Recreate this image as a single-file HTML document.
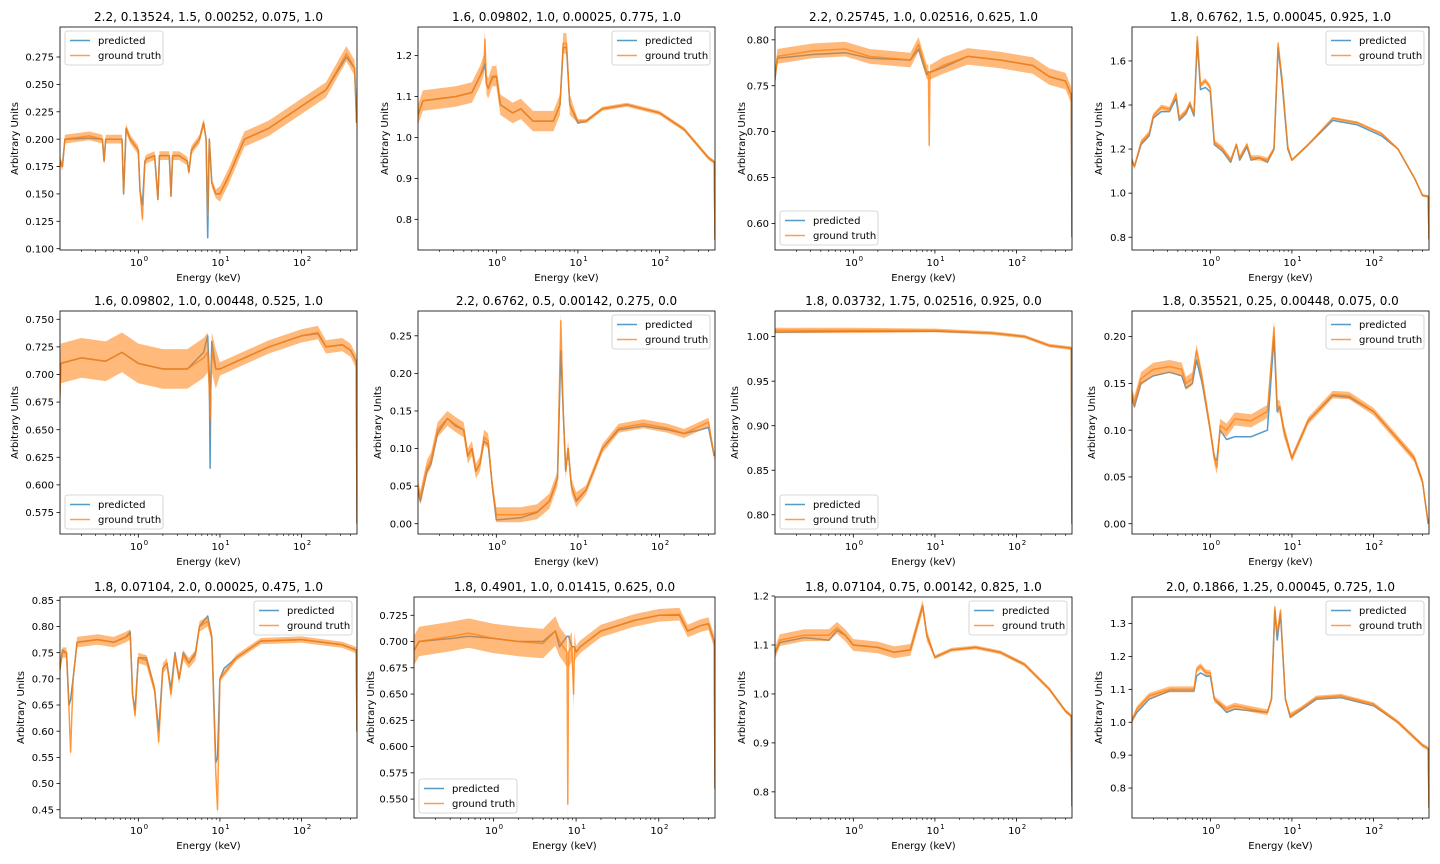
<!DOCTYPE html>
<html><head><meta charset="utf-8">
<style>
html,body{margin:0;padding:0;background:#fff;}
svg{display:block;font-family:"DejaVu Sans","Liberation Sans",sans-serif;}
</style></head>
<body>
<svg id="fig" width="1440" height="864" viewBox="0 0 1440 864" xmlns="http://www.w3.org/2000/svg">
<rect x="0" y="0" width="1440" height="864" fill="#fff"/>
</svg>
<script>
// ---- data (energies as log10 keV) ----
const p1E=[-0.96,-0.93,-0.9,-0.6,-0.44,-0.42,-0.4,-0.2,-0.18,-0.15,-0.1,0,0.02,0.05,0.08,0.1,0.2,0.24,0.26,0.3,0.38,0.4,0.42,0.5,0.6,0.62,0.65,0.75,0.8,0.83,0.85,0.87,0.9,0.95,1.0,1.1,1.3,1.6,2.0,2.3,2.55,2.65,2.675];
const p1Pred=[0.18,0.175,0.20,0.201,0.20,0.18,0.20,0.20,0.15,0.21,0.20,0.19,0.153,0.14,0.18,0.182,0.185,0.145,0.185,0.185,0.185,0.148,0.185,0.185,0.18,0.17,0.19,0.2,0.215,0.2,0.11,0.2,0.16,0.15,0.15,0.165,0.2,0.21,0.23,0.245,0.275,0.265,0.215];
const p1True=[0.18,0.175,0.20,0.203,0.20,0.18,0.20,0.20,0.15,0.21,0.20,0.19,0.153,0.127,0.18,0.182,0.185,0.145,0.185,0.185,0.185,0.148,0.185,0.185,0.18,0.17,0.19,0.2,0.215,0.2,0.13,0.2,0.16,0.15,0.15,0.165,0.2,0.21,0.23,0.245,0.278,0.265,0.215];
const p1Noise=[0.004,0.007];

const p2E=[-0.97,-0.9,-0.5,-0.3,-0.2,-0.15,-0.14,-0.12,-0.1,-0.05,0,0.05,0.2,0.3,0.45,0.7,0.78,0.82,0.86,0.9,1.0,1.1,1.3,1.6,2.0,2.3,2.6,2.67,2.68];
const p2Pred=[1.05,1.09,1.10,1.11,1.15,1.17,1.18,1.13,1.12,1.145,1.15,1.08,1.06,1.07,1.04,1.04,1.08,1.22,1.22,1.08,1.035,1.04,1.07,1.08,1.06,1.02,0.95,0.94,0.75];
const p2True=[1.05,1.09,1.10,1.11,1.15,1.18,1.24,1.13,1.12,1.15,1.15,1.08,1.06,1.07,1.04,1.04,1.08,1.23,1.23,1.08,1.04,1.04,1.07,1.08,1.06,1.02,0.95,0.94,0.75];
const p2Noise=[0.025,0.005];

const p3E=[-0.97,-0.93,-0.5,-0.1,0.2,0.7,0.8,0.85,0.9,0.92,0.93,0.94,0.95,1.1,1.4,1.8,2.2,2.4,2.6,2.67,2.68];
const p3Pred=[0.75,0.78,0.784,0.786,0.78,0.778,0.79,0.775,0.762,0.765,0.765,0.765,0.765,0.77,0.782,0.778,0.772,0.76,0.755,0.74,0.585];
const p3True=[0.75,0.782,0.788,0.79,0.782,0.778,0.795,0.78,0.765,0.765,0.685,0.765,0.765,0.772,0.782,0.778,0.772,0.76,0.755,0.74,0.585];
const p3Noise=[0.008,0.009];

const p4E=[-0.97,-0.93,-0.85,-0.75,-0.7,-0.6,-0.5,-0.42,-0.38,-0.3,-0.25,-0.2,-0.16,-0.12,-0.06,0,0.05,0.15,0.25,0.32,0.36,0.45,0.5,0.6,0.7,0.78,0.83,0.88,0.95,1.0,1.2,1.5,1.8,2.1,2.3,2.5,2.6,2.67,2.68];
const p4Pred=[1.16,1.12,1.22,1.26,1.34,1.37,1.37,1.43,1.33,1.36,1.40,1.35,1.69,1.47,1.48,1.46,1.22,1.19,1.14,1.22,1.15,1.21,1.15,1.16,1.14,1.2,1.66,1.5,1.2,1.15,1.22,1.33,1.31,1.26,1.2,1.07,0.99,0.985,0.79];
const p4True=[1.16,1.12,1.23,1.27,1.35,1.39,1.38,1.45,1.34,1.37,1.41,1.36,1.71,1.49,1.51,1.48,1.23,1.2,1.15,1.22,1.16,1.22,1.16,1.16,1.15,1.2,1.68,1.52,1.21,1.15,1.22,1.34,1.32,1.27,1.2,1.07,0.99,0.985,0.79];
const p4Noise=[0.012,0.006];

const p5E=[-0.97,-0.95,-0.7,-0.4,-0.2,0,0.3,0.6,0.8,0.85,0.87,0.88,0.89,0.9,0.95,1.0,1.3,1.6,2.0,2.2,2.3,2.5,2.6,2.67,2.68];
const p5Pred=[0.66,0.71,0.715,0.712,0.72,0.71,0.705,0.705,0.72,0.735,0.70,0.615,0.70,0.73,0.705,0.705,0.715,0.725,0.735,0.737,0.725,0.727,0.722,0.712,0.565];
const p5True=[0.66,0.71,0.715,0.712,0.72,0.71,0.705,0.705,0.715,0.72,0.69,0.66,0.69,0.72,0.705,0.705,0.715,0.725,0.735,0.738,0.725,0.727,0.722,0.712,0.565];
const p5Noise=[0.018,0.006];

const p6E=[-0.97,-0.93,-0.85,-0.8,-0.72,-0.6,-0.5,-0.4,-0.35,-0.3,-0.25,-0.2,-0.15,-0.1,-0.05,0,0.1,0.3,0.5,0.65,0.75,0.79,0.82,0.85,0.88,0.92,0.98,1.1,1.3,1.5,1.8,2.1,2.3,2.5,2.6,2.67];
const p6Pred=[0.05,0.03,0.07,0.08,0.12,0.14,0.13,0.125,0.09,0.10,0.07,0.08,0.11,0.105,0.05,0.005,0.006,0.008,0.015,0.03,0.06,0.23,0.15,0.07,0.10,0.05,0.03,0.045,0.10,0.125,0.13,0.125,0.12,0.125,0.128,0.09];
const p6True=[0.05,0.035,0.075,0.085,0.125,0.14,0.132,0.125,0.09,0.10,0.07,0.08,0.115,0.11,0.05,0.012,0.012,0.012,0.016,0.03,0.06,0.27,0.15,0.07,0.10,0.05,0.032,0.045,0.10,0.127,0.133,0.127,0.12,0.13,0.135,0.09];
const p6Noise=[0.01,0.006];

const p7E=[-0.97,0,1.0,1.7,2.1,2.4,2.67,2.68];
const p7Pred=[1.005,1.006,1.006,1.004,1.0,0.99,0.987,0.79];
const p7True=[1.007,1.007,1.007,1.004,1.0,0.99,0.987,0.79];
const p7Noise=[0.003,0.002];

const p8E=[-0.97,-0.93,-0.85,-0.7,-0.5,-0.35,-0.3,-0.22,-0.17,-0.1,0,0.05,0.08,0.12,0.2,0.3,0.5,0.7,0.78,0.82,0.85,0.9,1.0,1.2,1.5,1.7,2.0,2.3,2.5,2.6,2.67];
const p8Pred=[0.14,0.125,0.15,0.158,0.162,0.158,0.145,0.15,0.175,0.15,0.10,0.07,0.068,0.10,0.09,0.093,0.093,0.10,0.2,0.12,0.125,0.1,0.07,0.11,0.137,0.135,0.12,0.09,0.07,0.045,0.0];
const p8True=[0.14,0.13,0.155,0.165,0.168,0.165,0.15,0.155,0.185,0.155,0.10,0.07,0.06,0.105,0.10,0.112,0.11,0.12,0.21,0.125,0.125,0.1,0.07,0.11,0.138,0.137,0.12,0.09,0.07,0.045,0.0];
const p8Noise=[0.007,0.004];

const p9E=[-0.97,-0.93,-0.88,-0.85,-0.83,-0.8,-0.75,-0.5,-0.3,-0.15,-0.1,-0.07,-0.04,0,0.1,0.2,0.25,0.3,0.35,0.4,0.45,0.5,0.55,0.62,0.7,0.75,0.85,0.9,0.95,0.97,1.0,1.05,1.2,1.5,2.0,2.5,2.67,2.68];
const p9Pred=[0.71,0.755,0.75,0.65,0.66,0.70,0.77,0.775,0.77,0.78,0.79,0.67,0.64,0.74,0.74,0.68,0.60,0.72,0.73,0.68,0.75,0.70,0.75,0.73,0.75,0.80,0.82,0.78,0.54,0.55,0.70,0.72,0.74,0.772,0.775,0.765,0.755,0.60];
const p9True=[0.71,0.75,0.75,0.64,0.56,0.70,0.77,0.775,0.77,0.78,0.785,0.67,0.63,0.74,0.735,0.68,0.58,0.72,0.73,0.67,0.745,0.70,0.745,0.73,0.745,0.80,0.81,0.78,0.52,0.45,0.70,0.71,0.74,0.772,0.775,0.765,0.755,0.60];
const p9Noise=[0.01,0.006];

const p10E=[-0.97,-0.9,-0.5,-0.3,0,0.3,0.6,0.75,0.8,0.89,0.9,0.91,0.95,0.97,0.98,1.0,1.05,1.3,1.7,2.0,2.25,2.35,2.5,2.6,2.67,2.68];
const p10Pred=[0.69,0.70,0.703,0.705,0.703,0.70,0.70,0.71,0.695,0.705,0.705,0.705,0.695,0.695,0.695,0.69,0.695,0.71,0.72,0.725,0.725,0.71,0.715,0.717,0.70,0.56];
const p10True=[0.69,0.70,0.705,0.708,0.703,0.70,0.698,0.71,0.70,0.69,0.545,0.69,0.695,0.65,0.695,0.69,0.695,0.71,0.72,0.725,0.726,0.71,0.715,0.717,0.70,0.56];
const p10Noise=[0.014,0.006];

const p11E=[-0.97,-0.9,-0.6,-0.3,-0.2,-0.1,0,0.3,0.5,0.7,0.8,0.85,0.9,1.0,1.2,1.5,1.8,2.1,2.4,2.6,2.67,2.68];
const p11Pred=[1.08,1.105,1.115,1.11,1.13,1.12,1.10,1.095,1.085,1.09,1.15,1.18,1.12,1.075,1.09,1.095,1.085,1.06,1.01,0.965,0.955,0.77];
const p11True=[1.08,1.11,1.12,1.12,1.135,1.12,1.10,1.095,1.085,1.09,1.15,1.18,1.12,1.075,1.09,1.095,1.085,1.06,1.01,0.965,0.955,0.77];
const p11Noise=[0.012,0.004];

const p12E=[-0.97,-0.9,-0.75,-0.5,-0.3,-0.2,-0.17,-0.12,-0.05,0,0.05,0.2,0.3,0.5,0.7,0.75,0.79,0.82,0.86,0.92,0.98,1.1,1.3,1.6,2.0,2.3,2.6,2.67,2.68];
const p12Pred=[1.0,1.03,1.07,1.095,1.095,1.095,1.14,1.15,1.14,1.14,1.07,1.03,1.04,1.035,1.03,1.07,1.34,1.25,1.33,1.07,1.015,1.035,1.07,1.075,1.05,1.0,0.93,0.92,0.74];
const p12True=[1.0,1.04,1.08,1.1,1.1,1.1,1.16,1.17,1.15,1.15,1.07,1.04,1.05,1.04,1.03,1.07,1.35,1.27,1.34,1.07,1.02,1.04,1.075,1.08,1.055,1.0,0.93,0.92,0.74];
const p12Noise=[0.009,0.006];

// tick labels per panel
const p1Ticks=[0.100,0.125,0.150,0.175,0.200,0.225,0.250,0.275];
const p1Labels=["0.100","0.125","0.150","0.175","0.200","0.225","0.250","0.275"];
const p2Ticks=[0.8,0.9,1.0,1.1,1.2];
const p2Labels=["0.8","0.9","1.0","1.1","1.2"];
const p3Ticks=[0.60,0.65,0.70,0.75,0.80];
const p3Labels=["0.60","0.65","0.70","0.75","0.80"];
const p4Ticks=[0.8,1.0,1.2,1.4,1.6];
const p4Labels=["0.8","1.0","1.2","1.4","1.6"];
const p5Ticks=[0.575,0.600,0.625,0.650,0.675,0.700,0.725,0.750];
const p5Labels=["0.575","0.600","0.625","0.650","0.675","0.700","0.725","0.750"];
const p6Ticks=[0,0.05,0.10,0.15,0.20,0.25];
const p6Labels=["0.00","0.05","0.10","0.15","0.20","0.25"];
const p7Ticks=[0.80,0.85,0.90,0.95,1.00];
const p7Labels=["0.80","0.85","0.90","0.95","1.00"];
const p8Ticks=[0,0.05,0.10,0.15,0.20];
const p8Labels=["0.00","0.05","0.10","0.15","0.20"];
const p9Ticks=[0.45,0.50,0.55,0.60,0.65,0.70,0.75,0.80,0.85];
const p9Labels=["0.45","0.50","0.55","0.60","0.65","0.70","0.75","0.80","0.85"];
const p10Ticks=[0.550,0.575,0.600,0.625,0.650,0.675,0.700,0.725];
const p10Labels=["0.550","0.575","0.600","0.625","0.650","0.675","0.700","0.725"];
const p11Ticks=[0.8,0.9,1.0,1.1,1.2];
const p11Labels=["0.8","0.9","1.0","1.1","1.2"];
const p12Ticks=[0.8,0.9,1.0,1.1,1.2,1.3];
const p12Labels=["0.8","0.9","1.0","1.1","1.2","1.3"];

const titles=["2.2, 0.13524, 1.5, 0.00252, 0.075, 1.0","1.6, 0.09802, 1.0, 0.00025, 0.775, 1.0","2.2, 0.25745, 1.0, 0.02516, 0.625, 1.0","1.8, 0.6762, 1.5, 0.00045, 0.925, 1.0","1.6, 0.09802, 1.0, 0.00448, 0.525, 1.0","2.2, 0.6762, 0.5, 0.00142, 0.275, 0.0","1.8, 0.03732, 1.75, 0.02516, 0.925, 0.0","1.8, 0.35521, 0.25, 0.00448, 0.075, 0.0","1.8, 0.07104, 2.0, 0.00025, 0.475, 1.0","1.8, 0.4901, 1.0, 0.01415, 0.625, 0.0","1.8, 0.07104, 0.75, 0.00142, 0.825, 1.0","2.0, 0.1866, 1.25, 0.00045, 0.725, 1.0"];

// layout (pixels) and axis limits
const layout=[
 {l:60,r:357,t:27,b:250,ymin:0.0988,ymax:0.3024,yl:15,leg:"ul"},
 {l:418,r:715,t:27,b:250,ymin:0.725,ymax:1.27,yl:385,leg:"ur"},
 {l:775,r:1072,t:27,b:250,ymin:0.571,ymax:0.814,yl:742,leg:"ll"},
 {l:1132,r:1429,t:27,b:250,ymin:0.742,ymax:1.754,yl:1099,leg:"ur"},
 {l:60,r:357,t:311,b:534,ymin:0.5555,ymax:0.7575,yl:15,leg:"ll"},
 {l:418,r:715,t:311,b:534,ymin:-0.0137,ymax:0.283,yl:378,leg:"ur"},
 {l:775,r:1072,t:311,b:534,ymin:0.7784,ymax:1.0288,yl:735,leg:"ll"},
 {l:1132,r:1429,t:311,b:534,ymin:-0.011,ymax:0.2274,yl:1092,leg:"ur"},
 {l:60,r:357,t:597,b:818,ymin:0.4342,ymax:0.8563,yl:21,leg:"ur"},
 {l:414,r:715,t:597,b:818,ymin:0.532,ymax:0.7424,yl:371,leg:"ll"},
 {l:775,r:1072,t:597,b:818,ymin:0.7466,ymax:1.198,yl:742,leg:"ur"},
 {l:1132,r:1429,t:597,b:818,ymin:0.709,ymax:1.3806,yl:1099,leg:"ur"}
];
const XMIN=-0.96, XMAX=2.68;

const series=[
 [p1E,p1Pred,p1True,p1Noise,p1Ticks,p1Labels],[p2E,p2Pred,p2True,p2Noise,p2Ticks,p2Labels],
 [p3E,p3Pred,p3True,p3Noise,p3Ticks,p3Labels],[p4E,p4Pred,p4True,p4Noise,p4Ticks,p4Labels],
 [p5E,p5Pred,p5True,p5Noise,p5Ticks,p5Labels],[p6E,p6Pred,p6True,p6Noise,p6Ticks,p6Labels],
 [p7E,p7Pred,p7True,p7Noise,p7Ticks,p7Labels],[p8E,p8Pred,p8True,p8Noise,p8Ticks,p8Labels],
 [p9E,p9Pred,p9True,p9Noise,p9Ticks,p9Labels],[p10E,p10Pred,p10True,p10Noise,p10Ticks,p10Labels],
 [p11E,p11Pred,p11True,p11Noise,p11Ticks,p11Labels],[p12E,p12Pred,p12True,p12Noise,p12Ticks,p12Labels]
];

const NS="http://www.w3.org/2000/svg";
const fig=document.getElementById("fig");
function mk(tag,attrs,parent){const e=document.createElementNS(NS,tag);for(const k in attrs)e.setAttribute(k,attrs[k]);(parent||fig).appendChild(e);return e;}

layout.forEach((L,i)=>{
  const [E,pred,tru,noise,ticks,labels]=series[i];
  const g=mk("g",{});
  
  
  const xs=v=>L.l+(v-XMIN)/(XMAX-XMIN)*(L.r-L.l);
  const ys=v=>L.b-(v-L.ymin)/(L.ymax-L.ymin)*(L.b-L.t);
  const cid="clip"+i;
  const cp=mk("clipPath",{id:cid},g);mk("rect",{x:L.l,y:L.t,width:L.r-L.l,height:L.b-L.t},cp);
  const plot=mk("g",{"clip-path":"url(#"+cid+")"},g);
  const n=Math.min(E.length,pred.length,tru.length);
  // predicted
  let d="";for(let k=0;k<n;k++)d+=(k?"L":"M")+xs(E[k]).toFixed(1)+","+ys(pred[k]).toFixed(1);
  const pl=mk("path",{d:d,fill:"none",stroke:"#1f77b4","stroke-opacity":0.75,"stroke-width":1.5,"stroke-linejoin":"round"},plot);
  
  
  // ground truth noise band
  const nz=k=>E[k]<1?noise[0]:noise[1];
  let up="",dn="";
  for(let k=0;k<n;k++){up+=(k?"L":"M")+xs(E[k]).toFixed(1)+","+ys(tru[k]+nz(k)).toFixed(1);}
  for(let k=n-1;k>=0;k--){dn+="L"+xs(E[k]).toFixed(1)+","+ys(tru[k]-nz(k)).toFixed(1);}
  const band=mk("path",{d:up+dn+"Z",fill:"#ff7f0e","fill-opacity":0.55,stroke:"none"},plot);
  
  
  let d2="";for(let k=0;k<n;k++)d2+=(k?"L":"M")+xs(E[k]).toFixed(1)+","+ys(tru[k]).toFixed(1);
  const tl=mk("path",{d:d2,fill:"none",stroke:"#ff7f0e","stroke-opacity":0.75,"stroke-width":1.5,"stroke-linejoin":"round"},plot);
  
  
  // frame
  const fr=mk("rect",{x:L.l,y:L.t,width:L.r-L.l,height:L.b-L.t,fill:"none",stroke:"#000","stroke-width":0.8},g);
  
  
  // y ticks
  ticks.forEach((tv,j)=>{
    const y=ys(tv);
    mk("line",{x1:L.l-3.5,x2:L.l,y1:y,y2:y,stroke:"#000","stroke-width":0.8},g);
    const t=mk("text",{x:L.l-6,y:y+3.6,"text-anchor":"end","font-size":10,fill:"#000"},g);
    t.textContent=labels[j];
    
    
  });
  // x ticks
  for(let dec=-1;dec<=2;dec++){
    for(let m=1;m<10;m++){
      const lv=dec+Math.log10(m);
      if(lv<XMIN||lv>XMAX)continue;
      const x=xs(lv);
      mk("line",{x1:x,x2:x,y1:L.b,y2:L.b+(m===1?3.5:2),stroke:"#000","stroke-width":m===1?0.8:0.6},g);
      if(m===1){
        const t=mk("text",{x:x-2,y:L.b+16,"text-anchor":"middle","font-size":10,fill:"#000"},g);
        t.textContent="10";
        
        
        const s=mk("text",{x:x+7.5,y:L.b+11,"text-anchor":"middle","font-size":7,fill:"#000"},g);
        s.textContent=String(dec);
      }
    }
  }
  // labels
  const cx=(L.l+L.r)/2;
  const xl=mk("text",{x:cx,y:L.b+31,"text-anchor":"middle","font-size":10,fill:"#000"},g);
  xl.textContent="Energy (keV)";
  
  
  const ymid=(L.t+L.b)/2;
  const yl=mk("text",{x:L.yl,y:ymid,"text-anchor":"middle","font-size":10,fill:"#000",transform:"rotate(-90 "+(L.yl)+" "+ymid+")","dominant-baseline":"middle"},g);
  yl.textContent="Arbitrary Units";
  
  
  const ti=mk("text",{x:cx,y:L.t-6,"text-anchor":"middle","font-size":12,fill:"#000"},g);
  ti.textContent=titles[i];
  
  
  // legend
  const lw=98,lh=34;
  let lx,ly;
  if(L.leg==="ul"){lx=L.l+5;ly=L.t+4;}
  else if(L.leg==="ur"){lx=L.r-5-lw;ly=L.t+4;}
  else {lx=L.l+5;ly=L.b-5-lh;}
  const lg=mk("g",{},g);
  
  
  mk("rect",{x:lx,y:ly,width:lw,height:lh,rx:2.5,fill:"#fff","fill-opacity":0.8,stroke:"#ccc","stroke-width":0.8},lg);
  [["predicted","#1f77b4"],["ground truth","#ff7f0e"]].forEach((it,k)=>{
    const yy=ly+9.5+k*15;
    const ln=mk("line",{x1:lx+5,x2:lx+25,y1:yy,y2:yy,stroke:it[1],"stroke-opacity":0.75,"stroke-width":1.5},lg);
    
    
    const tx=mk("text",{x:lx+33,y:yy+3.6,"font-size":10,fill:"#000"},lg);
    tx.textContent=it[0];
    
    
  });
});
</script>
</body></html>
